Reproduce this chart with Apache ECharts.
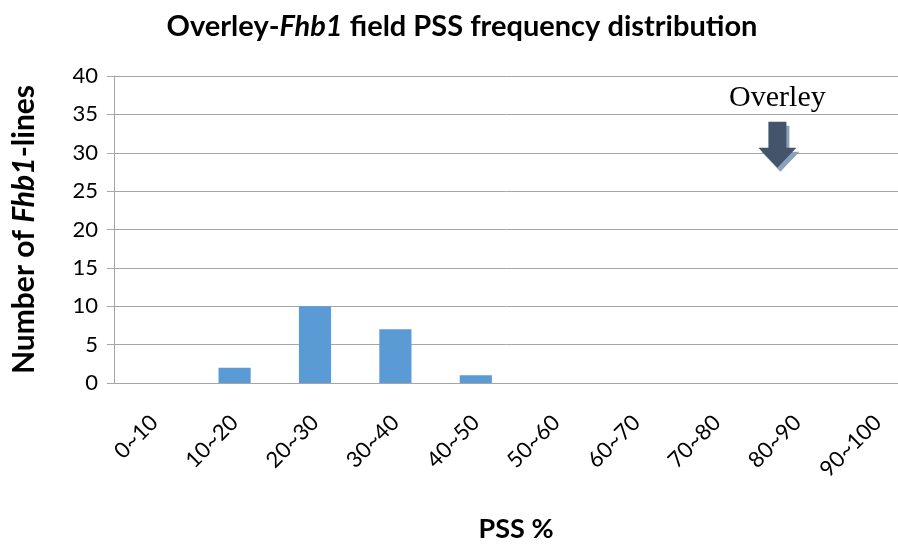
<!DOCTYPE html>
<html>
<head>
<meta charset="utf-8">
<script src="https://cdn.jsdelivr.net/npm/echarts@6/dist/echarts.min.js"></script>
<style>
  html, body { margin: 0; padding: 0; background: #fff; }
  #chart { width: 898px; height: 548px; }
</style>
</head>
<body>
<div id="chart"></div>
<script>
// PSS bins and the number of Fhb1 lines falling into each one
const categories = ['0~10', '10~20', '20~30', '30~40', '40~50', '50~60', '60~70', '70~80', '80~90', '90~100'];
const lineCounts = [0, 2, 10, 7, 1, 0, 0, 0, 0, 0];
const yTicks = { min: 0, max: 40, interval: 5 };
// Where the Overley parent sits on the distribution
const overleyBin = '80~90';
const overleyLevel = 30;

const FONT = 'Lato, "Open Sans", sans-serif';
const chart = echarts.init(document.getElementById('chart'), null, { renderer: 'canvas' });

chart.setOption({
  animation: false,
  backgroundColor: '#ffffff',
  title: {
    text: '{b|Overley-}{bi|Fhb1}{b| field PSS frequency distribution}',
    left: 457,
    textAlign: 'center',
    top: 7,
    textStyle: {
      rich: {
        b: { fontFamily: FONT, fontWeight: 'bold', fontSize: 29, color: '#000' },
        bi: { fontFamily: FONT, fontWeight: 'bold', fontStyle: 'italic', fontSize: 29, color: '#000' }
      }
    }
  },
  grid: { left: 114, right: -20, top: 76, bottom: 165, containLabel: false, outerBoundsMode: 'none' },
  xAxis: {
    type: 'category',
    data: categories,
    name: 'PSS %',
    nameLocation: 'middle',
    nameGap: 133,
    nameTextStyle: { fontFamily: FONT, fontWeight: 'bold', fontSize: 27, color: '#000' },
    axisLine: { lineStyle: { color: '#A6A6A6', width: 1 } },
    axisTick: { show: false },
    axisLabel: { rotate: 45, margin: 36, fontFamily: FONT, fontSize: 22, color: '#000', interval: 0 }
  },
  yAxis: {
    type: 'value',
    min: yTicks.min,
    max: yTicks.max,
    interval: yTicks.interval,
    name: '{b|Number of }{bi|Fhb1}{b|-lines}',
    nameLocation: 'middle',
    nameGap: 75,
    nameTextStyle: {
      rich: {
        b: { fontFamily: FONT, fontWeight: 'bold', fontSize: 30, color: '#000' },
        bi: { fontFamily: FONT, fontWeight: 'bold', fontStyle: 'italic', fontSize: 30, color: '#000' }
      }
    },
    axisLine: { show: true, lineStyle: { color: '#A6A6A6', width: 1 } },
    axisTick: { show: true, length: 7, lineStyle: { color: '#A6A6A6' } },
    axisLabel: { margin: 16, fontFamily: FONT, fontSize: 22, color: '#000' },
    splitLine: { lineStyle: { color: '#A6A6A6', width: 1 } }
  },
  series: [{
    type: 'bar',
    data: lineCounts,
    barWidth: '40%',
    itemStyle: { color: '#5B9BD5' }
  }]
});

// Overley annotation: label above a down arrow with a soft offset shadow,
// anchored to its bin on the category axis.
const anchor = chart.convertToPixel({ gridIndex: 0 }, [overleyBin, overleyLevel]);
const ax = anchor[0] - 20;
const ay = anchor[1];
const arrowPts = [[-9, -31], [9, -31], [9, -5], [19, -5], [0, 15], [-19, -5], [-9, -5]];
const shift = (pts, dx, dy) => pts.map(p => [p[0] + ax + dx, p[1] + ay + dy]);

chart.setOption({
  graphic: [
    { type: 'polygon', shape: { points: shift(arrowPts, 3, 4) }, style: { fill: '#8EA1BA' }, z: 100 },
    { type: 'polygon', shape: { points: shift(arrowPts, 0, 0) }, style: { fill: '#44546A' }, z: 101 },
    {
      type: 'text', z: 102,
      x: ax, y: ay - 40,
      style: {
        text: 'Overley',
        font: '30px "Liberation Serif", "Times New Roman", serif',
        fill: '#000',
        textAlign: 'center',
        textVerticalAlign: 'bottom'
      }
    }
  ]
});
</script>
</body>
</html>
